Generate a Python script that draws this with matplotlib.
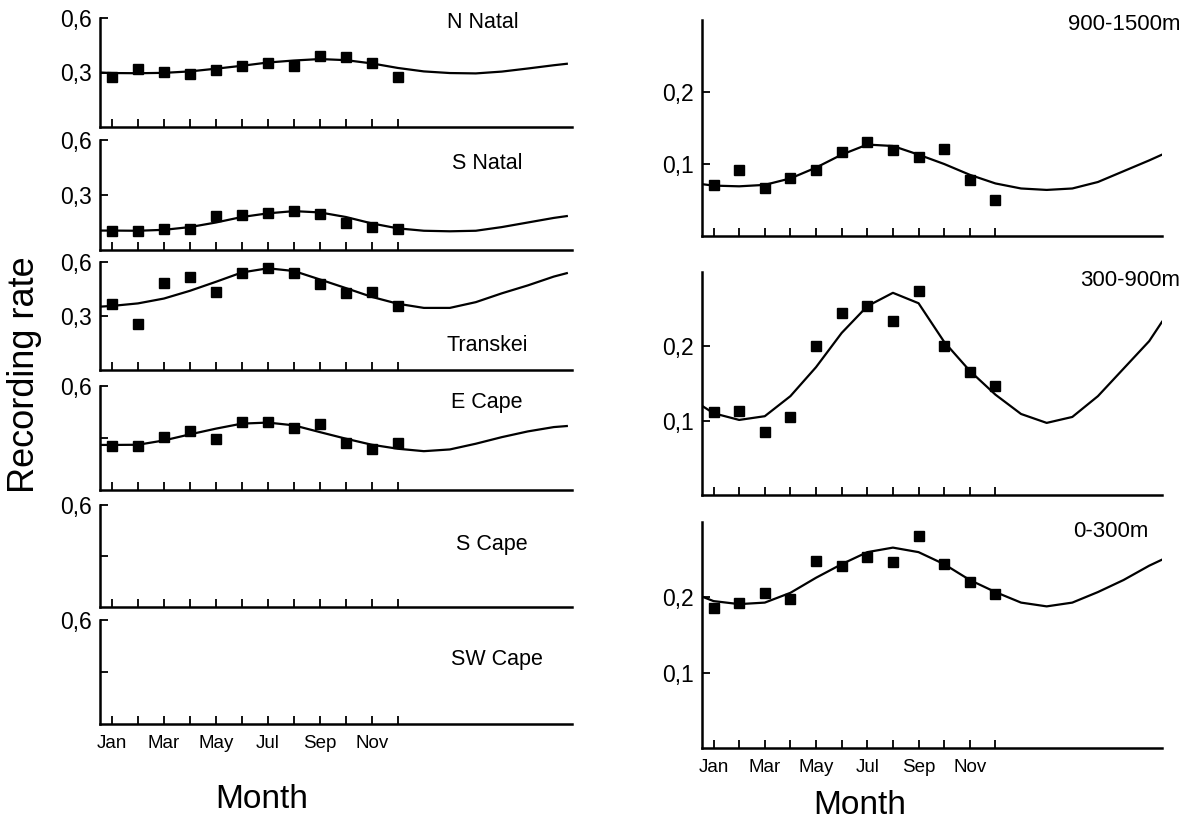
import matplotlib.pyplot as plt

plt.rcParams['font.family'] = ['Liberation Sans', 'DejaVu Sans']

# months with observations and positions where the fitted curve was read
months = [1, 2, 3, 4, 5, 6, 7, 8, 9, 10, 11, 12]
fit_x = [0.55, 1, 2, 3, 4, 5, 6, 7, 8, 9, 10, 11, 12, 13, 14, 15, 16, 17, 18, 18.5]
tick_months = [1, 3, 5, 7, 9, 11]
tick_names = ['Jan', 'Mar', 'May', 'Jul', 'Sep', 'Nov']

# regions (left column)
n_natal_pts = [0.275, 0.32, 0.305, 0.29, 0.315, 0.335, 0.35, 0.335, 0.39, 0.385, 0.35, 0.275]
n_natal_fit = [0.300, 0.297, 0.296, 0.298, 0.306, 0.321, 0.337, 0.355, 0.366, 0.374, 0.368,
               0.350, 0.325, 0.306, 0.297, 0.295, 0.305, 0.322, 0.340, 0.348]
s_natal_pts = [0.106, 0.101, 0.116, 0.116, 0.184, 0.19, 0.203, 0.213, 0.199, 0.149, 0.126, 0.116]
s_natal_fit = [0.106, 0.106, 0.105, 0.110, 0.125, 0.150, 0.180, 0.200, 0.212, 0.205, 0.180,
               0.145, 0.118, 0.105, 0.102, 0.105, 0.125, 0.150, 0.175, 0.185]
transkei_pts = [0.368, 0.257, 0.484, 0.517, 0.435, 0.538, 0.567, 0.538, 0.48, 0.426, 0.435, 0.354]
transkei_fit = [0.352, 0.356, 0.370, 0.397, 0.440, 0.490, 0.542, 0.565, 0.550, 0.503, 0.455,
                0.406, 0.368, 0.345, 0.345, 0.377, 0.426, 0.470, 0.519, 0.538]
e_cape_pts = [0.255, 0.253, 0.305, 0.34, 0.295, 0.39, 0.39, 0.36, 0.38, 0.272, 0.238, 0.27]
e_cape_fit = [0.260, 0.260, 0.261, 0.286, 0.321, 0.354, 0.383, 0.389, 0.373, 0.334, 0.296,
              0.261, 0.238, 0.224, 0.234, 0.267, 0.305, 0.338, 0.363, 0.369]

# altitude bands (right column)
alt_900_pts = [0.071, 0.092, 0.067, 0.080, 0.091, 0.116, 0.131, 0.12, 0.11, 0.121, 0.078, 0.05]
alt_900_fit = [0.072, 0.070, 0.069, 0.071, 0.080, 0.095, 0.113, 0.127, 0.125, 0.113, 0.100,
               0.085, 0.073, 0.066, 0.064, 0.066, 0.075, 0.090, 0.105, 0.113]
alt_300_pts = [0.112, 0.113, 0.085, 0.105, 0.201, 0.245, 0.254, 0.234, 0.275, 0.201, 0.165, 0.147]
alt_300_fit = [0.120, 0.110, 0.101, 0.106, 0.133, 0.172, 0.218, 0.254, 0.272, 0.258, 0.206,
               0.167, 0.135, 0.109, 0.097, 0.105, 0.133, 0.170, 0.207, 0.233]
alt_0_pts = [0.186, 0.193, 0.206, 0.198, 0.248, 0.241, 0.253, 0.247, 0.281, 0.244, 0.22, 0.205]
alt_0_fit = [0.201, 0.195, 0.191, 0.193, 0.206, 0.226, 0.244, 0.260, 0.266, 0.260, 0.244,
             0.223, 0.207, 0.193, 0.188, 0.193, 0.207, 0.223, 0.242, 0.250]

W, H = 1193, 832
fig = plt.figure(figsize=(W / 100, H / 100), dpi=100)


def panel(l, t, r, b):
    return fig.add_axes([l / W, 1 - b / H, (r - l) / W, (b - t) / H])


def style(ax, xlim, ylim, yticks, ylabels, bottom):
    for s in ('top', 'right'):
        ax.spines[s].set_visible(False)
    for s in ('left', 'bottom'):
        ax.spines[s].set_linewidth(1.8)
    ax.set_xlim(*xlim)
    ax.set_ylim(*ylim)
    ax.set_yticks(yticks)
    ax.set_yticklabels(ylabels, fontsize=16.5)
    ax.set_xticks(months)
    if bottom:
        ax.set_xticklabels([tick_names[tick_months.index(m)] if m in tick_months else ''
                            for m in months], fontsize=13.5)
    else:
        ax.set_xticklabels([])
    ax.tick_params(axis='x', direction='in', length=6, width=1.3, pad=8)
    ax.tick_params(axis='y', direction='in', length=6, width=1.3, pad=6)


left = [
    ('N Natal', n_natal_pts, n_natal_fit, 18, 127, ['0,3', '0,6'], 0.81, 0.96),
    ('S Natal', s_natal_pts, s_natal_fit, 140, 250, ['0,3', '0,6'], 0.82, 0.79),
    ('Transkei', transkei_pts, transkei_fit, 262, 370, ['0,3', '0,6'], 0.82, 0.23),
    ('E Cape', e_cape_pts, e_cape_fit, 386, 490, ['', '0,6'], 0.82, 0.84),
    ('S Cape', None, None, 505, 607, ['', '0,6'], 0.83, 0.61),
    ('SW Cape', None, None, 620, 724, ['', '0,6'], 0.84, 0.62),
]
for i, (name, pts, fit, t, b, ylab, tx, ty) in enumerate(left):
    ax = panel(100, t, 572, b)
    style(ax, (0.54, 18.7), (0, 0.6), [0.3, 0.6], ylab, i == len(left) - 1)
    if pts is not None:
        ax.plot(fit_x, fit, color='black', lw=1.6, solid_joinstyle='round')
        ax.plot(months, pts, 's', color='black', ms=6.5, clip_on=False)
    ax.text(tx, ty, name, transform=ax.transAxes, ha='center', va='center', fontsize=15.5)

right = [
    ('900-1500m', alt_900_pts, alt_900_fit, 20, 236, 1.04, 0.98),
    ('300-900m', alt_300_pts, alt_300_fit, 272, 495, 1.04, 0.96),
    ('0-300m', alt_0_pts, alt_0_fit, 522, 748, 0.97, 0.96),
]
for i, (name, pts, fit, t, b, tx, ty) in enumerate(right):
    ax = panel(702, t, 1162, b)
    style(ax, (0.55, 18.5), (0, 0.3), [0.1, 0.2], ['0,1', '0,2'], i == len(right) - 1)
    ax.plot(fit_x, fit, color='black', lw=1.6, solid_joinstyle='round')
    ax.plot(months, pts, 's', color='black', ms=6.5, clip_on=False)
    ax.text(tx, ty, name, transform=ax.transAxes, ha='right', va='center', fontsize=16)

fig.text(25 / W, 1 - 375 / H, 'Recording rate', rotation=90, ha='center', va='center', fontsize=26)
fig.text(262 / W, 1 - 800 / H, 'Month', ha='center', va='center', fontsize=24)
fig.text(860 / W, 1 - 805 / H, 'Month', ha='center', va='center', fontsize=24)

fig.savefig('out.png', dpi=100, facecolor='white')
